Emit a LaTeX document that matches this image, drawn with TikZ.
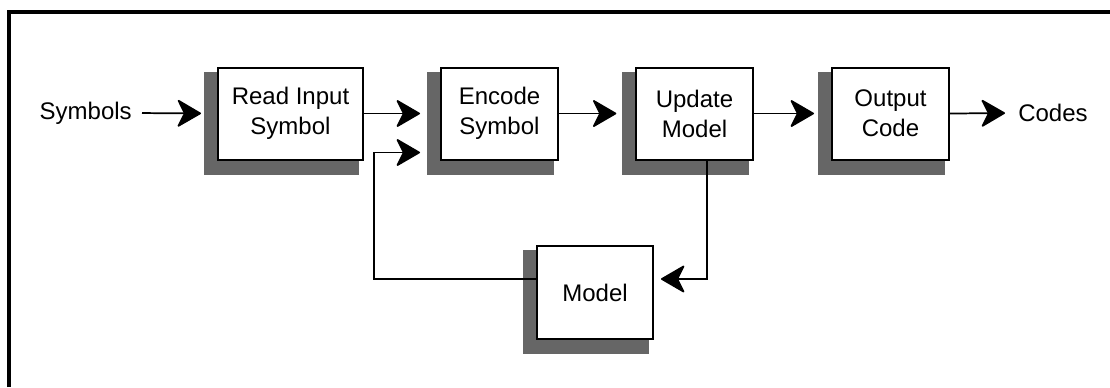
\documentclass[tikz,border=0pt]{standalone}
\usepackage{fontspec}
\setmainfont{Liberation Sans}
\usetikzlibrary{arrows.meta,backgrounds}
\definecolor{shadowgray}{HTML}{666666}
\begin{document}
\begin{tikzpicture}[x=0.75pt,y=-0.75pt,
  box/.style={draw=black,line width=1.5pt,fill=white,align=center,inner sep=0pt,minimum height=69pt,font=\fontsize{18}{22.5}\selectfont},
  lbl/.style={inner sep=0pt,font=\fontsize{18}{22.5}\selectfont},
  conn/.style={line width=1.3pt,-{Stealth[length=19pt,width=22pt,inset=5.5pt,round]}},
  frameline/.style={line width=2.6pt}
]
\useasboundingbox (0,0) rectangle (1110,387);
\draw[frameline] (9,387) -- (9,12) -- (1110,12);

\node[box,minimum width=108.75pt] (read) at (290.5,113.5) {Read Input\\Symbol};
\node[box,minimum width=87.75pt] (enc) at (499.5,113.5) {Encode\\Symbol};
\node[box,minimum width=87.75pt] (upd) at (694.5,113.5) {Update\\Model};
\node[box,minimum width=87.75pt] (out) at (890.5,113.5) {Output\\Code};
\node[box,minimum width=87pt,minimum height=69.75pt] (model) at (595,292.5) {Model};

\begin{scope}[on background layer]
\foreach \n in {read,enc,upd,out,model}
  \fill[shadowgray] ([shift={(-13,5)}]\n.north west) rectangle ([shift={(-5,14)}]\n.south east);
\end{scope}

\node[lbl,anchor=east] (sym) at (132,113) {Symbols};
\node[lbl,anchor=west] (codes) at (1018,113) {Codes};

\draw[conn,shorten <=7.5pt,shorten >=12pt] (sym.east) -- (read.west);
\draw[conn,shorten >=15pt] (read.east) -- (enc.west);
\draw[conn,shorten >=14pt] (enc.east) -- (upd.west);
\draw[conn,shorten >=12.75pt] (upd.east) -- (out.west);
\draw[conn,shorten >=9.75pt] (out.east) -- (codes.west);

\coordinate (fb) at (374,279);
\coordinate (um) at (707,279);
\draw[conn,shorten >=15pt] (model.west |- fb) -- (fb) |- ([yshift=-29.25pt]enc.west);
\draw[conn,shorten >=5.25pt] (upd.south -| um) |- (model.east |- um);
\end{tikzpicture}
\end{document}
